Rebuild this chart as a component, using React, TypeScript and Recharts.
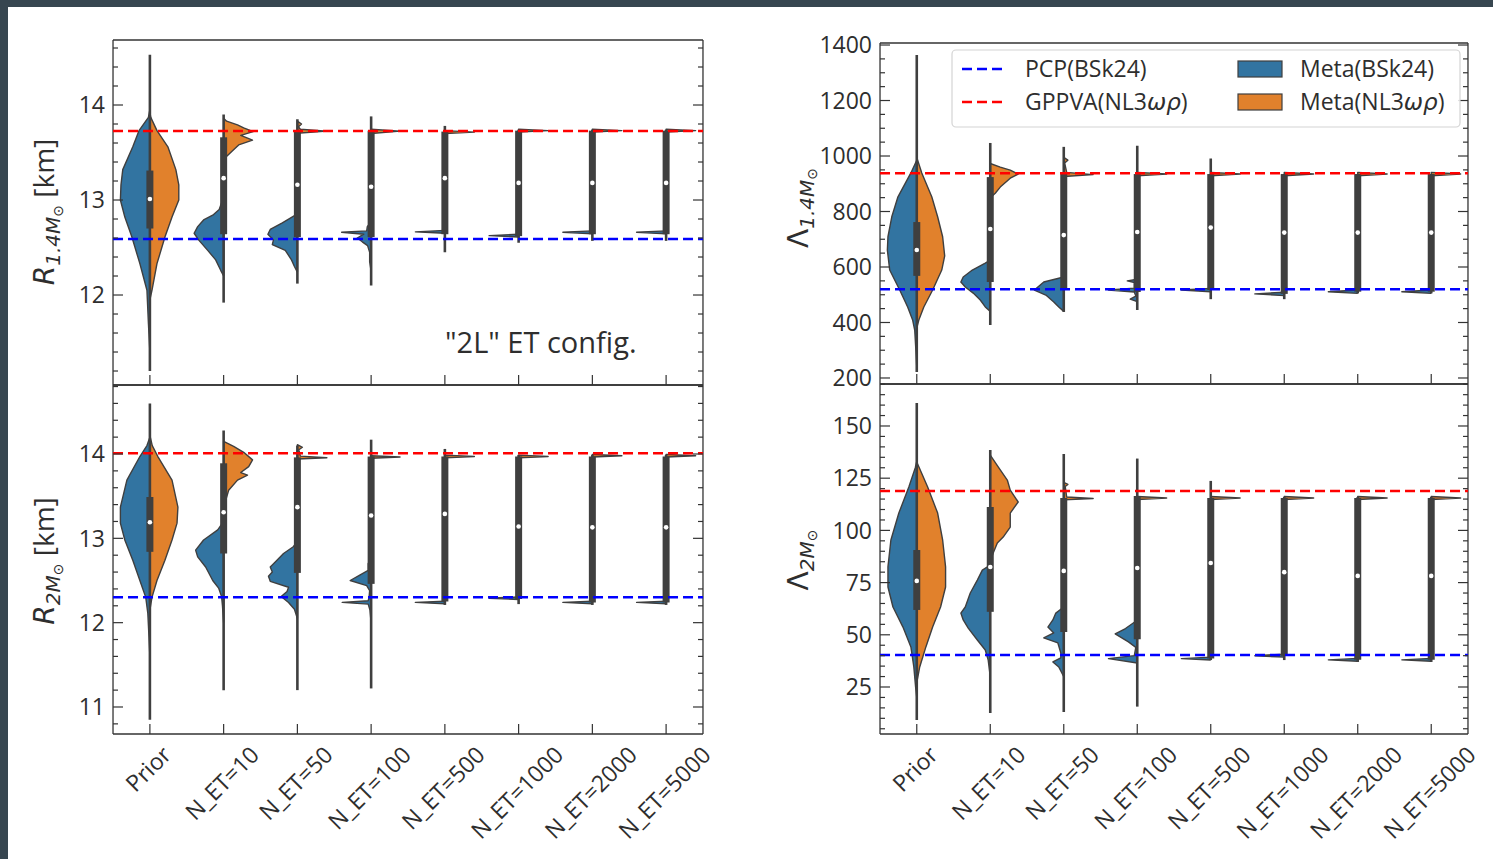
import React from "react";
import { ComposedChart, Scatter, XAxis, YAxis } from "recharts";

const W = 1493;
const H = 859;
const FONT = '"Open Sans", "Noto Sans", sans-serif';
const MATH = '"DejaVu Sans", sans-serif';
const BLUE = "#3274a1";
const ORANGE = "#e1812c";
const EDGE = "#3f3f3f";
const INK = "#2e2e2e";
const SPINE = "#333333";
const HALF = 0.4; // widest half of a violin, in category units
const THIN = 0.01; // axes need a non-zero box to be drawn

const categories = ["Prior", "N_ET=10", "N_ET=50", "N_ET=100", "N_ET=500", "N_ET=1000", "N_ET=2000", "N_ET=5000"];

// every violin half: [value, width relative to the widest half]
type Half = [number, number][];

// ---- R_1.4 panel
const r14Blue: Half[] = [
  [[11.4, 0], [11.7, 0.05], [12.05, 0.1], [12.33, 0.34], [12.61, 0.61], [12.82, 0.85], [13.0, 1], [13.16, 0.98], [13.32, 0.92], [13.56, 0.58], [13.73, 0.37], [13.87, 0.05], [13.95, 0]],
  [[12.2, 0], [12.26, 0.1], [12.37, 0.27], [12.47, 0.54], [12.58, 0.85], [12.65, 1], [12.72, 0.88], [12.79, 0.68], [12.84, 0.37], [12.9, 0.15], [12.97, 0.07], [13.02, 0]],
  [[12.24, 0], [12.3, 0.1], [12.37, 0.2], [12.47, 0.41], [12.53, 0.85], [12.58, 0.81], [12.64, 1], [12.69, 0.92], [12.76, 0.51], [12.84, 0.07], [12.87, 0]],
  [[12.25, 0], [12.35, 0.05], [12.45, 0.05], [12.52, 0.12], [12.56, 0.3], [12.6, 0.47], [12.64, 0.25], [12.66, 1], [12.675, 0.15], [12.72, 0.13], [12.77, 0]],
  [[12.65, 0], [12.665, 1], [12.68, 0]],
  [[12.61, 0], [12.625, 1], [12.64, 0]],
  [[12.645, 0], [12.66, 1], [12.675, 0]],
  [[12.645, 0], [12.66, 1], [12.675, 0]],
];
const r14Orange: Half[] = [
  [[11.95, 0], [12.05, 0.07], [12.33, 0.24], [12.61, 0.51], [12.82, 0.75], [13.0, 0.98], [13.16, 0.98], [13.32, 0.88], [13.56, 0.61], [13.73, 0.24], [13.87, 0.03], [13.92, 0]],
  [[13.42, 0], [13.45, 0.07], [13.52, 0.31], [13.58, 0.51], [13.63, 0.98], [13.68, 0.58], [13.72, 1], [13.76, 0.68], [13.79, 0.47], [13.83, 0.1], [13.86, 0]],
  [[13.68, 0], [13.705, 0.1], [13.725, 1], [13.745, 0.1], [13.77, 0.04], [13.8, 0.14], [13.83, 0]],
  [[13.7, 0], [13.725, 0.98], [13.745, 0]],
  [[13.7, 0], [13.715, 1], [13.73, 0]],
  [[13.715, 0], [13.73, 1], [13.745, 0]],
  [[13.715, 0], [13.73, 1], [13.745, 0]],
  [[13.715, 0], [13.73, 1], [13.745, 0]],
];
const r14Whisker: [number, number][] = [[11.2, 14.53], [11.92, 13.9], [12.12, 13.85], [12.1, 13.88], [12.45, 13.78], [12.55, 13.74], [12.57, 13.74], [12.57, 13.74]];
const r14Box: [number, number][] = [[12.7, 13.31], [12.64, 13.66], [12.61, 13.73], [12.61, 13.73], [12.64, 13.72], [12.62, 13.73], [12.64, 13.73], [12.64, 13.73]];
const r14Median = [13.01, 13.23, 13.16, 13.14, 13.23, 13.18, 13.18, 13.18];
const r14Ticks = [12, 13, 14];

// ---- R_2 panel
const r2Blue: Half[] = [
  [[11.6, 0], [11.9, 0.04], [12.11, 0.07], [12.3, 0.14], [12.5, 0.34], [12.74, 0.58], [12.98, 0.85], [13.18, 1], [13.37, 1], [13.69, 0.78], [13.97, 0.34], [14.1, 0.1], [14.2, 0]],
  [[12.0, 0], [12.2, 0.04], [12.31, 0.07], [12.41, 0.17], [12.5, 0.37], [12.66, 0.61], [12.78, 0.88], [12.86, 0.95], [12.98, 0.68], [13.1, 0.2], [13.2, 0]],
  [[12.05, 0], [12.16, 0.1], [12.24, 0.3], [12.31, 0.55], [12.37, 0.35], [12.42, 0.3], [12.49, 0.92], [12.55, 0.98], [12.6, 0.85], [12.66, 0.92], [12.72, 0.75], [12.82, 0.47], [12.9, 0.14], [12.96, 0]],
  [[12.0, 0], [12.15, 0.04], [12.22, 0.1], [12.24, 0.98], [12.26, 0.1], [12.3, 0.07], [12.38, 0.05], [12.44, 0.15], [12.5, 0.71], [12.56, 0.4], [12.62, 0.1], [12.7, 0.1], [12.76, 0]],
  [[12.225, 0], [12.24, 1], [12.255, 0]],
  [[12.275, 0], [12.29, 1], [12.305, 0]],
  [[12.225, 0], [12.24, 1], [12.255, 0]],
  [[12.225, 0], [12.24, 1], [12.255, 0]],
];
const r2Orange: Half[] = [
  [[12.15, 0], [12.3, 0.07], [12.5, 0.24], [12.74, 0.51], [12.98, 0.75], [13.18, 0.92], [13.37, 0.95], [13.69, 0.75], [13.97, 0.27], [14.1, 0.08], [14.22, 0]],
  [[13.4, 0], [13.45, 0.07], [13.57, 0.17], [13.69, 0.47], [13.75, 0.81], [13.78, 0.58], [13.85, 0.85], [13.93, 0.98], [14.02, 0.68], [14.09, 0.34], [14.15, 0]],
  [[13.94, 0], [13.955, 1], [13.975, 0.1], [14.05, 0.05], [14.08, 0.17], [14.11, 0]],
  [[13.95, 0], [13.965, 0.98], [13.98, 0]],
  [[13.955, 0], [13.97, 1], [13.985, 0]],
  [[13.955, 0], [13.97, 1], [13.985, 0]],
  [[13.965, 0], [13.98, 1], [13.995, 0]],
  [[13.965, 0], [13.98, 1], [13.995, 0]],
];
const r2Whisker: [number, number][] = [[10.85, 14.6], [11.2, 14.28], [11.2, 14.1], [11.22, 14.17], [12.21, 14.06], [12.22, 13.99], [12.21, 13.99], [12.21, 13.99]];
const r2Box: [number, number][] = [[12.84, 13.49], [12.82, 13.89], [12.59, 13.96], [12.46, 13.97], [12.25, 13.97], [12.28, 13.97], [12.24, 13.97], [12.24, 13.97]];
const r2Median = [13.19, 13.31, 13.37, 13.27, 13.29, 13.14, 13.13, 13.13];
const r2Ticks = [11, 12, 13, 14];

// ---- Lambda_1.4 panel
const l14Blue: Half[] = [
  [[240, 0], [300, 0.03], [373, 0.07], [409, 0.14], [456, 0.31], [517, 0.58], [589, 0.92], [661, 1], [709, 0.98], [781, 0.85], [853, 0.64], [939, 0.2], [985, 0]],
  [[440, 0], [456, 0.17], [481, 0.34], [506, 0.58], [528, 0.85], [546, 1], [564, 0.92], [589, 0.61], [614, 0.17], [625, 0]],
  [[440, 0], [456, 0.17], [474, 0.34], [499, 0.61], [517, 1], [528, 0.88], [546, 0.68], [564, 0]],
  [[475, 0], [484, 0.24], [495, 0.05], [510, 0.1], [517, 0.98], [524, 0.1], [544, 0.1], [550, 0.34], [556, 0]],
  [[511, 0], [517, 1], [523, 0]],
  [[497, 0], [503, 1], [509, 0]],
  [[505, 0], [511, 1], [517, 0]],
  [[505, 0], [511, 1], [517, 0]],
];
const l14Orange: Half[] = [
  [[380, 0], [409, 0.07], [456, 0.24], [517, 0.54], [589, 0.85], [640, 0.95], [709, 0.88], [781, 0.71], [853, 0.51], [939, 0.17], [995, 0]],
  [[850, 0], [866, 0.17], [888, 0.34], [920, 0.68], [935, 0.95], [949, 0.68], [960, 0.34], [973, 0]],
  [[926, 0], [933, 1], [941, 0.1], [975, 0.03], [985, 0.14], [995, 0]],
  [[929, 0], [935, 1], [941, 0]],
  [[929, 0], [935, 1], [941, 0]],
  [[929, 0], [935, 1], [941, 0]],
  [[929, 0], [935, 1], [941, 0]],
  [[929, 0], [935, 1], [941, 0]],
];
const l14Whisker: [number, number][] = [[222, 1364], [391, 1047], [438, 1033], [445, 1037], [484, 991], [484, 935], [505, 935], [505, 935]];
const l14Box: [number, number][] = [[568, 762], [546, 924], [524, 939], [510, 935], [517, 935], [503, 935], [511, 935], [511, 935]];
const l14Median = [661, 737, 715, 726, 742, 724, 724, 724];
const l14Ticks = [200, 400, 600, 800, 1000, 1200, 1400];

// ---- Lambda_2 panel
const l2Blue: Half[] = [
  [[20, 0], [25, 0.04], [34.6, 0.1], [44.2, 0.2], [53.7, 0.47], [63.3, 0.81], [72.9, 0.98], [82.5, 0.98], [95.4, 0.88], [108.3, 0.61], [120.8, 0.27], [130, 0.05], [133, 0]],
  [[30, 0], [37.9, 0.07], [42.7, 0.17], [47.5, 0.44], [53.2, 0.75], [57.1, 0.92], [60.4, 1], [63.3, 0.85], [70, 0.68], [76.2, 0.44], [81, 0.27], [83.4, 0]],
  [[30, 0], [34.6, 0.17], [37, 0.37], [39, 0.1], [41.3, 0.1], [46.1, 0.2], [48.5, 0.68], [50.9, 0.34], [53.7, 0.54], [57.1, 0.37], [60.4, 0.27], [63.3, 0]],
  [[36.5, 0], [38.6, 0.98], [40, 0.1], [44, 0.05], [46.6, 0.3], [50.4, 0.75], [53, 0.4], [56, 0.1], [58, 0]],
  [[37.9, 0], [38.6, 1], [39.3, 0]],
  [[39.3, 0], [40, 1], [40.7, 0]],
  [[37.3, 0], [38, 1], [38.7, 0]],
  [[37.3, 0], [38, 1], [38.7, 0]],
];
const l2Orange: Half[] = [
  [[27, 0], [34.6, 0.1], [44.2, 0.31], [53.7, 0.54], [63.3, 0.81], [72.9, 0.98], [82.5, 0.98], [95.4, 0.88], [108.3, 0.71], [120.8, 0.37], [132.8, 0]],
  [[85, 0], [89.2, 0.1], [94, 0.24], [96.8, 0.44], [101.6, 0.68], [108.3, 0.68], [113.6, 0.95], [119.3, 0.68], [124.1, 0.58], [130.4, 0.27], [136, 0]],
  [[114.6, 0], [115.3, 1], [116, 0.1], [121, 0.05], [122, 0.14], [123, 0]],
  [[114.8, 0], [115.5, 1], [116.2, 0]],
  [[114.8, 0], [115.5, 1], [116.2, 0]],
  [[114.8, 0], [115.5, 1], [116.2, 0]],
  [[114.8, 0], [115.5, 1], [116.2, 0]],
  [[114.8, 0], [115.5, 1], [116.2, 0]],
];
const l2Whisker: [number, number][] = [[9.2, 161], [12.5, 138.5], [13, 136.6], [15.6, 134.4], [37.9, 123.7], [37.9, 116], [37, 116], [37, 116]];
const l2Box: [number, number][] = [[61.9, 90.6], [61, 111.2], [51.3, 115.5], [47.9, 116.5], [38.6, 115.5], [40, 115.5], [38, 115.5], [38, 115.5]];
const l2Median = [75.8, 82.5, 80.6, 82, 84.4, 80, 78.2, 78.2];
const l2Ticks = [25, 50, 75, 100, 125, 150];

// reference models (dashed lines)
const pcpValues = { r14: 12.59, r2: 12.3, l14: 520, l2: 40.3 };
const gppvaValues = { r14: 13.726, r2: 14.01, l14: 938, l2: 118.9 };

interface PanelSpec {
  blue: Half[];
  orange: Half[];
  whisker: [number, number][];
  box: [number, number][];
  median: number[];
  pcp: number;
  gppva: number;
  yDomain: [number, number];
  yTicks: number[];
  yMinorStep: number;
  yMajorStep: number;
  rect: { left: number; top: number; right: number; bottom: number };
  xLabels: boolean;
}

const panels: PanelSpec[] = [
  { blue: r14Blue, orange: r14Orange, whisker: r14Whisker, box: r14Box, median: r14Median, pcp: pcpValues.r14, gppva: gppvaValues.r14, yDomain: [11.053, 14.684], yTicks: r14Ticks, yMinorStep: 0.2, yMajorStep: 1, rect: { left: 113, top: 40, right: 703, bottom: 385 }, xLabels: false },
  { blue: r2Blue, orange: r2Orange, whisker: r2Whisker, box: r2Box, median: r2Median, pcp: pcpValues.r2, gppva: gppvaValues.r2, yDomain: [10.68, 14.818], yTicks: r2Ticks, yMinorStep: 0.2, yMajorStep: 1, rect: { left: 113, top: 385, right: 703, bottom: 734 }, xLabels: true },
  { blue: l14Blue, orange: l14Orange, whisker: l14Whisker, box: l14Box, median: l14Median, pcp: pcpValues.l14, gppva: gppvaValues.l14, yDomain: [178.4, 1407.2], yTicks: l14Ticks, yMinorStep: 50, yMajorStep: 200, rect: { left: 880, top: 43, right: 1468, bottom: 384 }, xLabels: false },
  { blue: l2Blue, orange: l2Orange, whisker: l2Whisker, box: l2Box, median: l2Median, pcp: pcpValues.l2, gppva: gppvaValues.l2, yDomain: [2.5, 170.1], yTicks: l2Ticks, yMinorStep: 5, yMajorStep: 25, rect: { left: 880, top: 384, right: 1468, bottom: 734 }, xLabels: true },
];

const xDomain: [number, number] = [-0.5, categories.length - 0.5];
const xMajor = categories.map((_, i) => i);

function minorTicks(lo: number, hi: number, step: number, major: number) {
  const out: number[] = [];
  for (let k = Math.ceil(lo / step); k * step <= hi; k++) {
    const v = Math.round(k * step * 1e6) / 1e6;
    if (Math.abs(v / major - Math.round(v / major)) > 1e-6) out.push(v);
  }
  return out;
}
const xMinor = minorTicks(xDomain[0], xDomain[1], 0.2, 1);

// outline of one half violin: down the centre, out along the density, back to centre
function halfOutline(i: number, half: Half, side: number) {
  const lo = half[0][0];
  const hi = half[half.length - 1][0];
  return [
    { x: i, y: lo },
    ...half.map(([v, d]) => ({ x: i + side * HALF * d, y: v })),
    { x: i, y: hi },
    { x: i, y: lo },
  ];
}

const noDot = () => <g />;

let measureCtx: CanvasRenderingContext2D | null = null;
function textWidth(s: string, font: string, fs: number) {
  if (!measureCtx) measureCtx = document.createElement("canvas").getContext("2d");
  if (!measureCtx) return s.length * 0.58 * fs;
  measureCtx.font = font;
  return measureCtx.measureText(s).width;
}

// ticks point into the plot, like matplotlib's direction="in"
type Side = "left" | "right" | "top" | "bottom";
const inward: Record<Side, [number, number]> = { left: [1, 0], right: [-1, 0], top: [0, 1], bottom: [0, -1] };

function TickMark({ x, y, side, len }: { x: number; y: number; side: Side; len: number }) {
  const [dx, dy] = inward[side];
  return <line x1={x} y1={y} x2={x + dx * len} y2={y + dy * len} stroke={SPINE} strokeWidth={1.2} />;
}
const tickOnly = (side: Side, len: number) => (p: any) => <TickMark x={p.x} y={p.y} side={side} len={len} />;

function YTickLabelled(p: any) {
  return (
    <g>
      <TickMark x={p.x} y={p.y} side="left" len={10} />
      <text x={p.x - 8} y={p.y} dy="0.36em" textAnchor="end" fontSize={23} fontFamily={FONT} fill={INK}>
        {p.payload.value}
      </text>
    </g>
  );
}

// matplotlib-style rotated label, bbox centred under the tick
function XTickLabelled(p: any) {
  const { x, y, payload } = p;
  const label = categories[Math.round(payload.value)] ?? "";
  const fs = 23;
  const w = textWidth(label, `${fs}px "Open Sans"`, fs);
  const asc = 0.76 * fs;
  const desc = 0.24 * fs;
  const top = y + 10;
  const ex = x + (0.7071 * (w + asc - desc)) / 2;
  const ey = top + 0.7071 * asc;
  return (
    <g>
      <TickMark x={x} y={y} side="bottom" len={10} />
      <text x={ex} y={ey} transform={`rotate(-45 ${ex} ${ey})`} textAnchor="end" fontSize={fs} fontFamily={FONT} fill={INK}>
        {label}
      </text>
    </g>
  );
}

function ViolinPanel({ spec }: { spec: PanelSpec }) {
  const { rect } = spec;
  const margin = { top: rect.top, left: rect.left, right: W - rect.right, bottom: H - rect.bottom };
  const yMinor = minorTicks(spec.yDomain[0], spec.yDomain[1], spec.yMinorStep, spec.yMajorStep);
  const spine = { stroke: SPINE, strokeWidth: 1.3 };
  const common = { type: "number" as const, tickSize: 0, tickMargin: 0, tickLine: false, interval: 0 as const, allowDataOverflow: true };

  return (
    <div style={{ position: "absolute", left: 0, top: 0 }}>
      <ComposedChart width={W} height={H} margin={margin}>
        <XAxis xAxisId="bm" orientation="bottom" domain={xDomain} ticks={xMinor} height={THIN} tick={tickOnly("bottom", 5)} axisLine={false} {...common} />
        <XAxis xAxisId="tm" orientation="top" domain={xDomain} ticks={xMinor} height={THIN} tick={tickOnly("top", 5)} axisLine={false} {...common} />
        <XAxis xAxisId="t" orientation="top" domain={xDomain} ticks={xMajor} height={THIN} tick={tickOnly("top", 10)} axisLine={spine} {...common} />
        <XAxis
          xAxisId="b"
          dataKey="x"
          orientation="bottom"
          domain={xDomain}
          ticks={xMajor}
          height={THIN}
          tick={spec.xLabels ? (p: any) => <XTickLabelled {...p} /> : tickOnly("bottom", 10)}
          axisLine={spine}
          {...common}
        />
        <YAxis yAxisId="lm" orientation="left" domain={spec.yDomain} ticks={yMinor} width={THIN} tick={tickOnly("left", 5)} axisLine={false} {...common} />
        <YAxis yAxisId="rm" orientation="right" domain={spec.yDomain} ticks={yMinor} width={THIN} tick={tickOnly("right", 5)} axisLine={false} {...common} />
        <YAxis yAxisId="r" orientation="right" domain={spec.yDomain} ticks={spec.yTicks} width={THIN} tick={tickOnly("right", 10)} axisLine={spine} {...common} />
        <YAxis yAxisId="l" dataKey="y" orientation="left" domain={spec.yDomain} ticks={spec.yTicks} width={THIN} tick={(p: any) => <YTickLabelled {...p} />} axisLine={spine} {...common} />

        {spec.blue.map((half, i) => (
          <Scatter key={`blue${i}`} xAxisId="b" yAxisId="l" data={halfOutline(i, half, -1)} shape={noDot} lineType="joint" line={{ fill: BLUE, stroke: EDGE, strokeWidth: 1.4, strokeLinejoin: "round" }} isAnimationActive={false} />
        ))}
        {spec.orange.map((half, i) => (
          <Scatter key={`orange${i}`} xAxisId="b" yAxisId="l" data={halfOutline(i, half, 1)} shape={noDot} lineType="joint" line={{ fill: ORANGE, stroke: EDGE, strokeWidth: 1.4, strokeLinejoin: "round" }} isAnimationActive={false} />
        ))}
        {spec.whisker.map(([lo, hi], i) => (
          <Scatter key={`wh${i}`} xAxisId="b" yAxisId="l" data={[{ x: i, y: lo }, { x: i, y: hi }]} shape={noDot} lineType="joint" line={{ stroke: EDGE, strokeWidth: 2.6 }} isAnimationActive={false} />
        ))}
        {spec.box.map(([lo, hi], i) => (
          <Scatter key={`bx${i}`} xAxisId="b" yAxisId="l" data={[{ x: i, y: lo }, { x: i, y: hi }]} shape={noDot} lineType="joint" line={{ stroke: EDGE, strokeWidth: 7 }} isAnimationActive={false} />
        ))}
        <Scatter
          xAxisId="b"
          yAxisId="l"
          data={spec.median.map((m, i) => ({ x: i, y: m }))}
          shape={(p: any) => <circle cx={p.cx} cy={p.cy} r={2.3} fill="#ffffff" />}
          isAnimationActive={false}
        />
        <Scatter xAxisId="b" yAxisId="l" data={[{ x: xDomain[0], y: spec.pcp }, { x: xDomain[1], y: spec.pcp }]} shape={noDot} lineType="joint" line={{ stroke: "#0000ff", strokeWidth: 2.5, strokeDasharray: "10 5" }} isAnimationActive={false} />
        <Scatter xAxisId="b" yAxisId="l" data={[{ x: xDomain[0], y: spec.gppva }, { x: xDomain[1], y: spec.gppva }]} shape={noDot} lineType="joint" line={{ stroke: "#ff0000", strokeWidth: 2.5, strokeDasharray: "10 5" }} isAnimationActive={false} />
      </ComposedChart>
    </div>
  );
}

function AxisTitle({ x, y, sym, sub, unit }: { x: number; y: number; sym: string; sub: string; unit: string }) {
  return (
    <text transform={`translate(${x},${y}) rotate(-90)`} textAnchor="middle" fontSize={28} fill={INK} fontFamily={MATH}>
      <tspan fontStyle={sym === "R" ? "italic" : "normal"}>{sym}</tspan>
      <tspan fontSize={20} dy={6} fontStyle="italic">{sub}</tspan>
      <tspan fontSize={14} dy={3}>⊙</tspan>
      {unit ? <tspan dy={-9} fontFamily={FONT}>{unit}</tspan> : null}
    </text>
  );
}

function Overlay() {
  return (
    <svg width={W} height={H} style={{ position: "absolute", left: 0, top: 0, pointerEvents: "none" }}>
      <AxisTitle x={54} y={212} sym="R" sub="1.4M" unit=" [km]" />
      <AxisTitle x={54} y={561} sym="R" sub="2M" unit=" [km]" />
      <AxisTitle x={808} y={208} sym="Λ" sub="1.4M" unit="" />
      <AxisTitle x={808} y={560} sym="Λ" sub="2M" unit="" />

      <text x={445} y={353} fontSize={29} fontFamily={FONT} fill={INK}>"2L" ET config.</text>

      <rect x={952} y={50} width={508} height={77} rx={4} fill="#ffffff" fillOpacity={0.85} stroke="#d4d4d4" strokeWidth={1.2} />
      <line x1={962} x2={1005} y1={69} y2={69} stroke="#0000ff" strokeWidth={2.5} strokeDasharray="10 5" />
      <line x1={962} x2={1005} y1={102} y2={102} stroke="#ff0000" strokeWidth={2.5} strokeDasharray="10 5" />
      <text x={1025} y={77} fontSize={23} fontFamily={FONT} fill={INK}>PCP(BSk24)</text>
      <text x={1025} y={110} fontSize={23} fontFamily={FONT} fill={INK}>
        GPPVA(NL3<tspan fontFamily={MATH} fontStyle="italic">ωρ</tspan>)
      </text>
      <rect x={1238} y={61} width={44} height={16} fill={BLUE} stroke={EDGE} strokeWidth={1.2} />
      <rect x={1238} y={94} width={44} height={16} fill={ORANGE} stroke={EDGE} strokeWidth={1.2} />
      <text x={1300} y={77} fontSize={23} fontFamily={FONT} fill={INK}>Meta(BSk24)</text>
      <text x={1300} y={110} fontSize={23} fontFamily={FONT} fill={INK}>
        Meta(NL3<tspan fontFamily={MATH} fontStyle="italic">ωρ</tspan>)
      </text>
    </svg>
  );
}

export default function App() {
  return (
    <div style={{ position: "absolute", left: 0, top: 0, width: W, height: H, background: "#374650", overflow: "hidden" }}>
      <div style={{ position: "absolute", left: 8, top: 7, right: 0, bottom: 0, background: "#ffffff" }} />
      {panels.map((p, i) => (
        <ViolinPanel key={i} spec={p} />
      ))}
      <Overlay />
    </div>
  );
}
